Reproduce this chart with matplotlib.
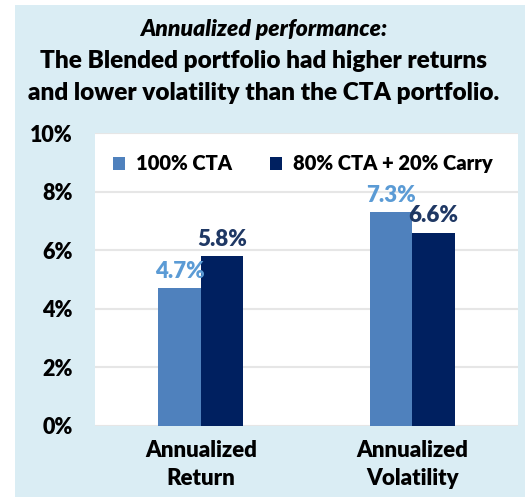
import matplotlib

matplotlib.use("Agg")
import matplotlib.pyplot as plt  # noqa: E402
import numpy as np  # noqa: E402
from matplotlib.patches import Rectangle  # noqa: E402

categories = ["Annualized\nReturn", "Annualized\nVolatility"]
series_names = ["100% CTA", "80% CTA + 20% Carry"]
cta = [4.7, 7.3]
blended = [5.8, 6.6]
yticks = [0, 2, 4, 6, 8, 10]

bar_colors = ["#4F81BD", "#002060"]
label_colors = ["#5B9BD5", "#1F3864"]
panel = "#DAEDF4"

plt.rcParams["font.family"] = ["Lato", "DejaVu Sans"]
plt.rcParams["font.weight"] = "heavy"

fig = plt.figure(figsize=(5.28, 4.97), dpi=100)
fig.patches.append(Rectangle((0.028, 0.0), 0.966, 0.99, transform=fig.transFigure,
                             facecolor=panel, edgecolor="none", zorder=-1))

ax = fig.add_axes([0.180, 0.143, 0.801, 0.589])
x = np.arange(len(categories))
w = 0.2
for i, (vals, name) in enumerate(zip([cta, blended], series_names)):
    xs = x + (i - 0.5) * w
    ax.bar(xs, vals, width=w, color=bar_colors[i], label=name, zorder=2)
    for xi, v in zip(xs, vals):
        ax.text(xi, v + 0.22, f"{v:.1f}%", ha="center", va="bottom",
                fontsize=16, color=label_colors[i])

ax.set_xlim(-0.5, 1.5)
ax.set_ylim(0, 10)
ax.set_yticks(yticks)
ax.set_yticklabels([f"{t}%" for t in yticks])
ax.set_xticks(x)
ax.set_xticklabels(categories, linespacing=1.4)
ax.tick_params(axis="y", length=0, pad=16, labelsize=15.5)
ax.tick_params(axis="x", length=0, pad=10, labelsize=16)
for s in ax.spines.values():
    s.set_visible(False)
ax.grid(axis="y", color="#E6E6E6", linewidth=1.5, zorder=0)
ax.set_axisbelow(True)

ax.legend(loc="upper left", bbox_to_anchor=(0.0, 0.99), ncol=2, frameon=False,
          fontsize=14.5, handlelength=0.6, handleheight=0.6, handletextpad=0.55,
          columnspacing=1.85)

fig.text(0.5, 0.941, "Annualized performance:", ha="center", va="center",
         fontsize=16.5, fontstyle="italic")
fig.text(0.5, 0.877, "The Blended portfolio had higher returns", ha="center",
         va="center", fontsize=17.6)
fig.text(0.5, 0.812, "and lower volatility than the CTA portfolio.", ha="center",
         va="center", fontsize=17.6)

fig.savefig("out.png", dpi=100)
